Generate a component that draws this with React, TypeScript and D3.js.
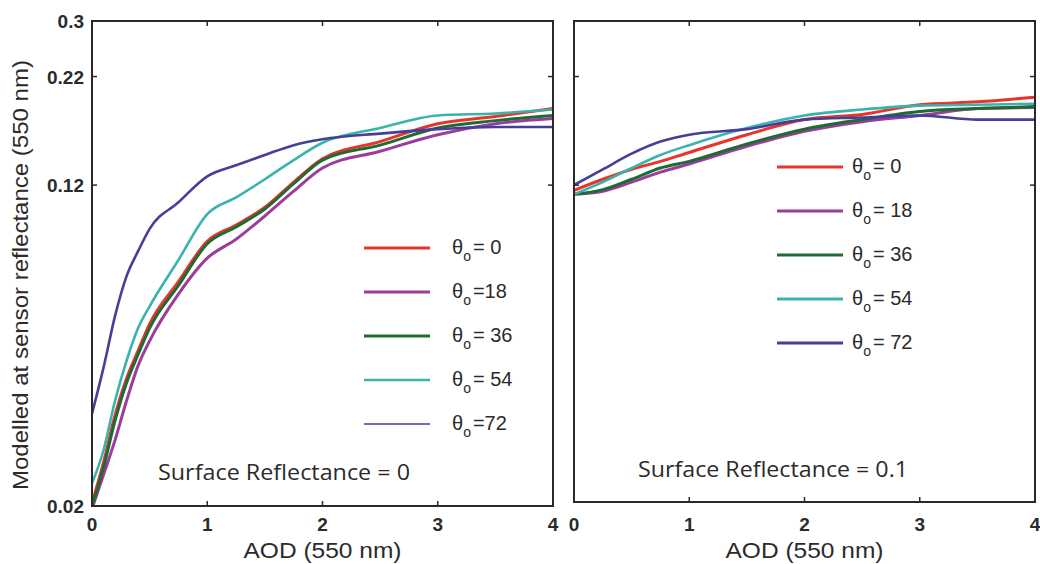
import React from "react";
import * as d3 from "d3";

// ---- data ----
const aodLeft = [0, 0.1, 0.2, 0.3, 0.4, 0.5, 0.75, 1, 1.25, 1.5, 1.75, 2, 2.5, 3, 3.5, 4];
const aodRight = [0, 0.25, 0.5, 0.75, 1, 1.5, 2, 2.5, 3, 3.5, 4];

const left0 = [0.0203, 0.0255, 0.0332, 0.0408, 0.0476, 0.0553, 0.070, 0.0877, 0.096, 0.106, 0.122, 0.139, 0.153, 0.169, 0.176, 0.184];
const left18 = [0.0197, 0.0238, 0.0289, 0.036, 0.0438, 0.0503, 0.0653, 0.0798, 0.0887, 0.101, 0.116, 0.132, 0.145, 0.159, 0.169, 0.174];
const left36 = [0.0200, 0.0248, 0.0322, 0.0398, 0.0466, 0.054, 0.0685, 0.0865, 0.095, 0.105, 0.121, 0.138, 0.150, 0.165, 0.172, 0.177];
const left54 = [0.0227, 0.0273, 0.036, 0.045, 0.054, 0.061, 0.079, 0.102, 0.112, 0.124, 0.138, 0.152, 0.165, 0.177, 0.179, 0.183];
const left72 = [0.0335, 0.0433, 0.0578, 0.0722, 0.0830, 0.094, 0.109, 0.126, 0.134, 0.142, 0.150, 0.155, 0.160, 0.164, 0.166, 0.166];

const right0 = [0.1165, 0.124, 0.131, 0.137, 0.144, 0.159, 0.173, 0.178, 0.188, 0.191, 0.196];
const right18 = [0.114, 0.116, 0.122, 0.129, 0.135, 0.149, 0.162, 0.171, 0.177, 0.184, 0.185];
const right36 = [0.114, 0.117, 0.124, 0.132, 0.137, 0.151, 0.164, 0.173, 0.181, 0.184, 0.186];
const right54 = [0.114, 0.122, 0.132, 0.142, 0.150, 0.165, 0.177, 0.183, 0.187, 0.188, 0.189];
const right72 = [0.120, 0.131, 0.143, 0.153, 0.159, 0.164, 0.173, 0.175, 0.177, 0.173, 0.173];

const angles = ["0", "18", "36", "54", "72"];
const leftLabels = ["= 0", "=18", "= 36", "= 54", "=72"];
const rightLabels = ["= 0", "= 18", "= 36", "= 54", "= 72"];
const colors = ["#e8352c", "#9c3c9c", "#1e6b34", "#3bb3ad", "#453f98"];

const xTicks = [0, 1, 2, 3, 4];
const yTicks = [0.02, 0.12, 0.22, 0.3];
const yTickLabels = ["0.02", "0.12", "0.22", "0.3"];

const leftSeries = [left0, left18, left36, left54, left72];
const rightSeries = [right0, right18, right36, right54, right72];

const seriesWidth = [3, 3, 3, 2.6, 2.6];
const legendWidthLeft = [3.2, 3.2, 3.2, 2.6, 1.6];
const legendWidthRight = [3.2, 3.2, 3.2, 3.2, 3.2];

const FONT = "'Liberation Sans', Arial, sans-serif";
const TXT = "#2b2b2b";

interface PanelProps {
  id: string;
  x0: number;
  x1: number;
  top: number;
  bottom: number;
  aod: number[];
  series: number[][];
  showYLabels: boolean;
  legendX: number;
  legendY0: number;
  legendStep: number;
  labelX: number;
  labels: string[];
  legendWidths: number[];
  surfaceText: string;
  surfaceX: number;
  surfaceY: number;
  surfaceLen: number;
}

function Panel(p: PanelProps) {
  const x = d3.scaleLinear().domain([0, 4]).range([p.x0, p.x1]);
  const y = d3.scaleLog().domain([0.02, 0.3]).range([506, 21]);
  const line = d3
    .line<[number, number]>()
    .x((d) => x(d[0]))
    .y((d) => y(d[1]))
    .curve(d3.curveMonotoneX);
  const tick = 5;
  const stroke = "#2a2a2a";
  return (
    <g>
      <defs>
        <clipPath id={p.id}>
          <rect x={p.x0} y={p.top} width={p.x1 - p.x0} height={p.bottom - p.top} />
        </clipPath>
      </defs>
      <g clipPath={`url(#${p.id})`}>
        {p.series.map((s, i) => (
          <path
            key={i}
            d={line(p.aod.map((a, j) => [a, s[j]] as [number, number])) || ""}
            fill="none"
            stroke={colors[i]}
            strokeWidth={seriesWidth[i]}
            strokeLinejoin="round"
          />
        ))}
      </g>
      <rect x={p.x0} y={p.top} width={p.x1 - p.x0} height={p.bottom - p.top} fill="none" stroke={stroke} strokeWidth={2} />
      {xTicks.map((t) => (
        <g key={"xt" + t}>
          <line x1={x(t)} x2={x(t)} y1={p.bottom} y2={p.bottom - tick} stroke={stroke} strokeWidth={1.5} />
          <line x1={x(t)} x2={x(t)} y1={p.top} y2={p.top + tick} stroke={stroke} strokeWidth={1.5} />
          <text x={x(t)} y={531} textAnchor="middle" fontFamily={FONT} fontWeight="bold" fontSize={19} fill={TXT}>
            {t}
          </text>
        </g>
      ))}
      {yTicks.slice(1, 3).map((t) => (
        <g key={"yt" + t}>
          <line x1={p.x0} x2={p.x0 + tick} y1={y(t)} y2={y(t)} stroke={stroke} strokeWidth={1.5} />
          <line x1={p.x1} x2={p.x1 - tick} y1={y(t)} y2={y(t)} stroke={stroke} strokeWidth={1.5} />
        </g>
      ))}
      {p.showYLabels &&
        yTicks.map((t, i) => (
          <text key={"yl" + t} x={p.x0 - 8} y={y(t) + 7} textAnchor="end" fontFamily={FONT} fontWeight="bold" fontSize={19} fill={TXT}>
            {yTickLabels[i]}
          </text>
        ))}
      <text
        x={(p.x0 + p.x1) / 2 - 79}
        y={558}
        fontFamily={FONT}
        fontSize={22}
        fill={TXT}
        textLength={158}
        lengthAdjust="spacingAndGlyphs"
      >
        AOD (550 nm)
      </text>
      {angles.map((a, i) => {
        const ly = p.legendY0 + i * p.legendStep;
        return (
          <g key={"lg" + a}>
            <line x1={p.legendX} x2={p.legendX + 66} y1={ly} y2={ly} stroke={colors[i]} strokeWidth={p.legendWidths[i]} />
            <text x={p.labelX} y={ly + 6} fontFamily={FONT} fontSize={20} fill={TXT}>
              θ
              <tspan fontSize={14} dy={7}>o</tspan>
              <tspan dy={-7} dx={2}>{p.labels[i]}</tspan>
            </text>
          </g>
        );
      })}
      <text
        x={p.surfaceX}
        y={p.surfaceY}
        fontFamily="'Open Sans', 'Noto Sans', sans-serif"
        fontSize={21}
        fill={TXT}
        textLength={p.surfaceLen}
        lengthAdjust="spacingAndGlyphs"
      >
        {p.surfaceText}
      </text>
    </g>
  );
}

export default function App() {
  return (
    <svg width={1040} height={564} style={{ position: "absolute", left: 0, top: 0, background: "#fff" }}>
      <rect x={0} y={0} width={1040} height={564} fill="#fff" />
      <Panel
        id="clipL"
        x0={92}
        x1={553}
        top={21}
        bottom={506}
        aod={aodLeft}
        series={leftSeries}
        showYLabels={true}
        legendX={364}
        legendY0={248}
        legendStep={44}
        labelX={452}
        labels={leftLabels}
        legendWidths={legendWidthLeft}
        surfaceText="Surface Reflectance = 0"
        surfaceX={158}
        surfaceY={480}
        surfaceLen={252}
      />
      <Panel
        id="clipR"
        x0={574}
        x1={1035}
        top={21}
        bottom={502}
        aod={aodRight}
        series={rightSeries}
        showYLabels={false}
        legendX={777}
        legendY0={167}
        legendStep={44}
        labelX={852}
        labels={rightLabels}
        legendWidths={legendWidthRight}
        surfaceText="Surface Reflectance = 0.1"
        surfaceX={638}
        surfaceY={477}
        surfaceLen={270}
      />
      <text
        transform="translate(28,490) rotate(-90)"
        fontFamily={FONT}
        fontSize={22}
        fill={TXT}
        textLength={430}
        lengthAdjust="spacingAndGlyphs"
      >
        Modelled at sensor reflectance (550 nm)
      </text>
    </svg>
  );
}
